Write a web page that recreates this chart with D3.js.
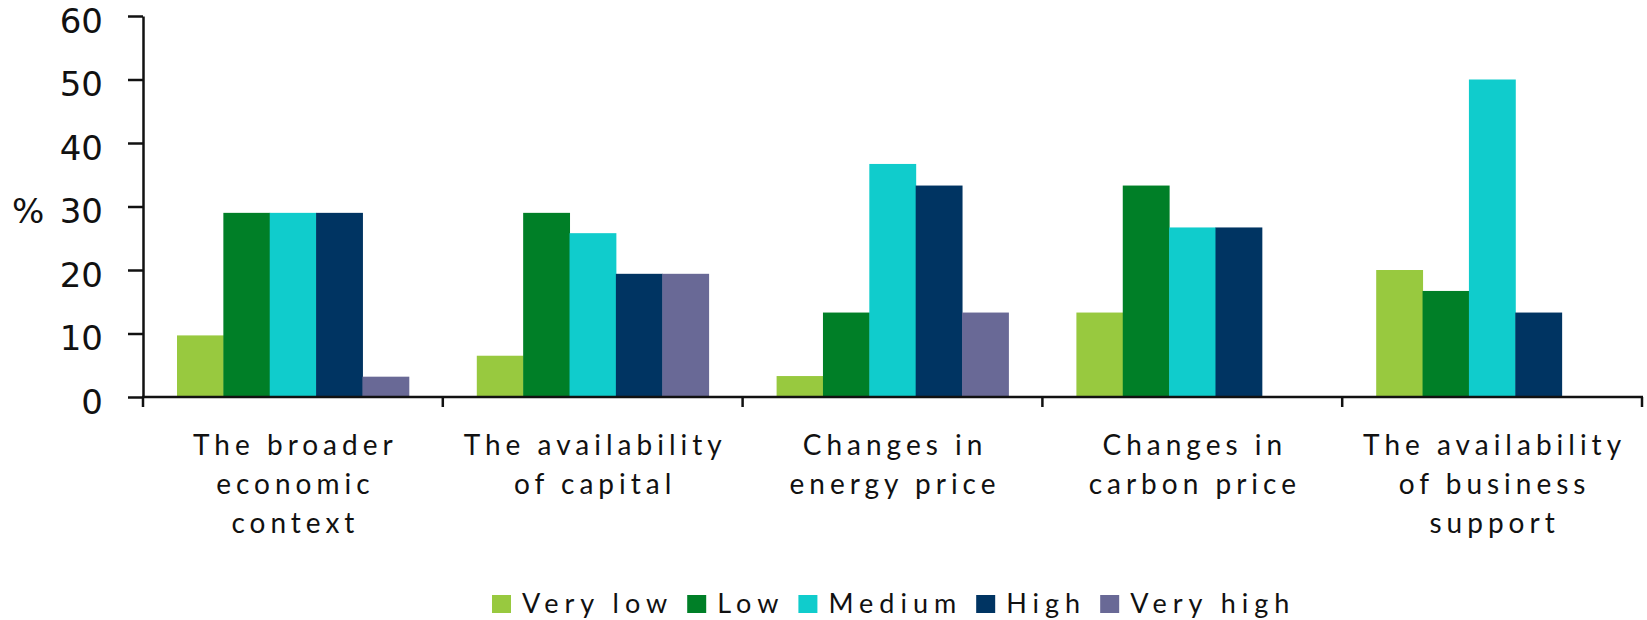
<!DOCTYPE html>
<html>
<head>
<meta charset="utf-8">
<script src="https://cdn.jsdelivr.net/npm/d3@7/dist/d3.min.js"></script>
<style>
  html, body { margin: 0; padding: 0; background: #fff; }
  svg { display: block; }
</style>
</head>
<body>
<svg id="chart" width="1647" height="620"></svg>
<script>
// Survey: perceived influence of each factor (% of respondents)
const categories = [
  "The broader economic context",
  "The availability of capital",
  "Changes in energy price",
  "Changes in carbon price",
  "The availability of business support"
];
const categoryLines = [
  ["The broader", "economic", "context"],
  ["The availability", "of capital"],
  ["Changes in", "energy price"],
  ["Changes in", "carbon price"],
  ["The availability", "of business", "support"]
];
const series = ["Very low", "Low", "Medium", "High", "Very high"];
const veryLow  = [9.7, 6.5, 3.3, 13.3, 20.0];
const low      = [29.0, 29.0, 13.3, 33.3, 16.7];
const medium   = [29.0, 25.8, 36.7, 26.7, 50.0];
const high     = [29.0, 19.4, 33.3, 26.7, 13.3];
const veryHigh = [3.2, 19.4, 13.3, 0, 0];
const yTicks = [0, 10, 20, 30, 40, 50, 60];
const colors = ["#98c93f", "#007f27", "#10cccc", "#003462", "#696996"];

const valuesBySeries = [veryLow, low, medium, high, veryHigh];

const svg = d3.select("#chart");
const plotLeft = 143, plotRight = 1642, plotTop = 16, plotBase = 397;

const x0 = d3.scaleBand().domain(categories).range([plotLeft, plotRight]).padding(0);
const groupPad = 34;
const x1 = d3.scaleBand().domain(series).range([groupPad, x0.bandwidth() - groupPad]);
const y = d3.scaleLinear().domain([0, 60]).range([plotBase, plotTop]);
const color = d3.scaleOrdinal().domain(series).range(colors);

// Bars
const groups = svg.append("g")
  .selectAll("g")
  .data(categories)
  .join("g")
  .attr("transform", d => `translate(${x0(d)},0)`);

groups.selectAll("rect")
  .data((c, i) => series.map((s, k) => ({ s, v: valuesBySeries[k][i] })))
  .join("rect")
  .attr("x", d => x1(d.s))
  .attr("width", x1.bandwidth() + 0.5)
  .attr("y", d => y(d.v))
  .attr("height", d => plotBase - y(d.v))
  .attr("fill", d => color(d.s));

// Y axis
const axisFont = "DejaVu Sans, Verdana, sans-serif";
const yAxis = svg.append("g")
  .attr("transform", `translate(${plotLeft},0)`)
  .call(d3.axisLeft(y).tickValues(yTicks).tickSize(15).tickSizeOuter(0).tickPadding(25));
yAxis.select(".domain").attr("stroke", "#111").attr("stroke-width", 2.5);
yAxis.selectAll(".tick line").attr("stroke", "#111").attr("stroke-width", 2.5);
yAxis.selectAll(".tick text")
  .attr("font-family", axisFont)
  .attr("font-size", 34)
  .attr("fill", "#111")
  .attr("dy", "0.48em");

svg.append("text")
  .attr("x", 12)
  .attr("y", y(30) + 16)
  .attr("font-family", axisFont)
  .attr("font-size", 34)
  .attr("fill", "#111")
  .text("%");

// X axis: baseline plus tick marks at category boundaries
svg.append("line")
  .attr("x1", plotLeft - 1).attr("x2", plotRight + 1)
  .attr("y1", plotBase).attr("y2", plotBase)
  .attr("stroke", "#111").attr("stroke-width", 2.5);

const boundaries = categories.map(c => x0(c)).concat([x0.range()[1]]);
svg.append("g")
  .selectAll("line")
  .data(boundaries)
  .join("line")
  .attr("x1", d => d).attr("x2", d => d)
  .attr("y1", plotBase).attr("y2", plotBase + 10)
  .attr("stroke", "#111").attr("stroke-width", 2.5);

// Category labels
const labelSpacing = 5;
const labels = svg.append("g")
  .selectAll("text")
  .data(categories)
  .join("text")
  .attr("y", 455)
  .attr("text-anchor", "middle")
  .attr("font-family", "Lato, sans-serif")
  .attr("font-size", 28)
  .attr("letter-spacing", labelSpacing)
  .attr("fill", "#111");

labels.each(function (d, i) {
  const t = d3.select(this);
  categoryLines[i].forEach((line, j) => {
    t.append("tspan")
      .attr("x", x0(d) + x0.bandwidth() / 2 + labelSpacing / 2)
      .attr("dy", j === 0 ? 0 : 39)
      .text(line);
  });
});

// Legend
const legendSpacing = 6;
const legend = svg.append("g");
let lx = 492;
series.forEach(s => {
  legend.append("rect")
    .attr("x", lx).attr("y", 595)
    .attr("width", 19).attr("height", 18)
    .attr("fill", color(s));
  const t = legend.append("text")
    .attr("x", lx + 30)
    .attr("y", 613)
    .attr("font-family", "Lato, sans-serif")
    .attr("font-size", 27)
    .attr("letter-spacing", legendSpacing)
    .attr("fill", "#111")
    .text(s);
  lx += 30 + t.node().getComputedTextLength() - legendSpacing + 20;
});
</script>
</body>
</html>
